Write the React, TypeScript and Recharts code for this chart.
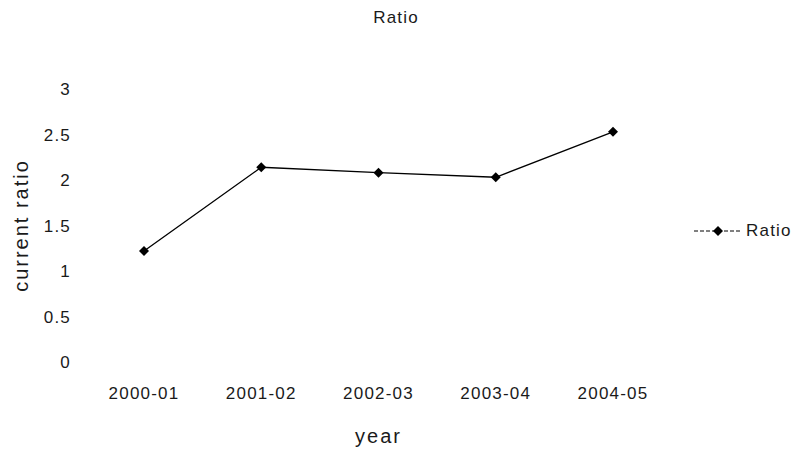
import React from 'react';
import { LineChart, Line, XAxis, YAxis, Legend } from 'recharts';

const years = ['2000-01', '2001-02', '2002-03', '2003-04', '2004-05'];
const ratioValues = [1.22, 2.14, 2.08, 2.03, 2.53];
const yTicks = [0, 0.5, 1, 1.5, 2, 2.5, 3];

const data = years.map((year, i) => ({ year, ratio: ratioValues[i] }));

const FONT = '"Liberation Sans", Arial, sans-serif';
const TEXT = '#1a1a1a';

const Diamond = (props: any) => {
  const { cx, cy } = props;
  if (cx == null || cy == null) return null;
  const s = 5;
  return <path d={`M${cx},${cy - s}L${cx + s},${cy}L${cx},${cy + s}L${cx - s},${cy}Z`} fill="#000" />;
};

const RatioLegend = (props: any) => {
  const { payload } = props;
  return (
    <div>
      {(payload || []).map((entry: any) => (
        <div key={entry.value} style={{ display: 'flex', alignItems: 'center' }}>
          <svg width={52} height={14}>
            <line x1={0} y1={7} x2={46} y2={7} stroke="#000" strokeWidth={1} strokeDasharray="4 2" />
            <path d="M24,2L29,7L24,12L19,7Z" fill="#000" />
          </svg>
          <span style={{ fontFamily: FONT, fontSize: 17, letterSpacing: 1.2, color: TEXT }}>{entry.value}</span>
        </div>
      ))}
    </div>
  );
};

export default function App() {
  return (
    <div style={{ position: 'absolute', left: 0, top: 0, width: 799, height: 455, background: '#fff', fontFamily: FONT }}>
      <div
        style={{
          position: 'absolute',
          top: 8,
          left: 0,
          width: 792,
          textAlign: 'center',
          fontSize: 17,
          letterSpacing: 1.2,
          color: TEXT,
          lineHeight: '20px',
        }}
      >
        Ratio
      </div>
      <LineChart width={799} height={455} data={data} margin={{ top: 89, right: 128, bottom: 0, left: 0 }}>
        <XAxis
          dataKey="year"
          height={93}
          padding={{ left: 58, right: 58 }}
          axisLine={false}
          tickLine={false}
          tickMargin={19}
          tick={{ fontSize: 17, fill: TEXT, fontFamily: FONT, letterSpacing: 1.2 }}
          label={{
            value: 'year',
            position: 'insideBottom',
            offset: 12,
            style: { fontSize: 20, fill: TEXT, fontFamily: FONT, letterSpacing: 2 },
          }}
        />
        <YAxis
          width={86}
          domain={[0, 3]}
          ticks={yTicks}
          axisLine={false}
          tickLine={false}
          tickMargin={9}
          tick={{ fontSize: 17, fill: TEXT, fontFamily: FONT, letterSpacing: 1.2 }}
          label={{
            value: 'current ratio',
            angle: -90,
            position: 'insideLeft',
            offset: 21,
            style: { fontSize: 20, fill: TEXT, fontFamily: FONT, letterSpacing: 2, textAnchor: 'middle' },
          }}
        />
        <Legend
          layout="vertical"
          align="center"
          verticalAlign="middle"
          content={<RatioLegend />}
          wrapperStyle={{ left: 694, top: 221, width: 110 }}
        />
        <Line
          type="linear"
          dataKey="ratio"
          name="Ratio"
          stroke="#000"
          strokeWidth={1.3}
          dot={<Diamond />}
          activeDot={false}
          isAnimationActive={false}
        />
      </LineChart>
    </div>
  );
}
